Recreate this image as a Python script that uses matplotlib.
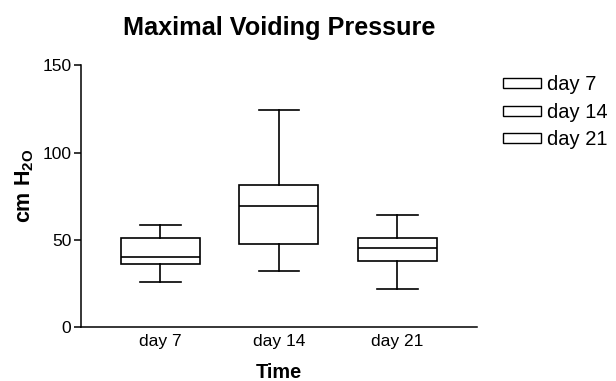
import matplotlib.pyplot as plt
from matplotlib.patches import Patch

plt.rcParams['font.family'] = ['Liberation Sans', 'DejaVu Sans']
plt.rcParams['mathtext.fontset'] = 'custom'
plt.rcParams['mathtext.rm'] = 'Liberation Sans'
plt.rcParams['mathtext.bf'] = 'Liberation Sans:bold'

# box statistics (cm H2O)
groups = ['day 7', 'day 14', 'day 21']
whisker_low = [26.1, 32.4, 21.9]
q1 = [36.2, 47.9, 37.8]
median = [40.2, 69.4, 45.6]
q3 = [51.0, 81.3, 51.3]
whisker_high = [58.6, 124.6, 64.3]

stats = []
for i, name in enumerate(groups):
    stats.append({'label': name, 'whislo': whisker_low[i], 'q1': q1[i],
                  'med': median[i], 'q3': q3[i], 'whishi': whisker_high[i],
                  'fliers': []})

fig = plt.figure(figsize=(6.16, 3.81), dpi=100)
ax = fig.add_axes([0.1315, 0.141, 0.6425, 0.6876])

lw = 1.2
ax.bxp(stats, positions=[1, 2, 3], widths=0.667, showfliers=False,
       patch_artist=True,
       boxprops=dict(facecolor='white', edgecolor='black', linewidth=lw),
       medianprops=dict(color='black', linewidth=lw),
       whiskerprops=dict(color='black', linewidth=lw),
       capprops=dict(color='black', linewidth=lw),
       capwidths=0.34)

ax.set_xlim(0.33, 3.67)
ax.set_ylim(0, 150)
ax.set_yticks([0, 50, 100, 150])
for side in ['top', 'right']:
    ax.spines[side].set_visible(False)
for side in ['left', 'bottom']:
    ax.spines[side].set_linewidth(1.1)
ax.tick_params(axis='y', length=5, width=1.1, pad=2, labelsize=12.5)
ax.tick_params(axis='x', length=0, pad=5, labelsize=12.5)

ax.set_title('Maximal Voiding Pressure', fontsize=18.2, fontweight='bold', pad=22)
ax.set_xlabel('Time', fontsize=14.3, fontweight='bold', labelpad=10)
ax.set_ylabel(r'cm H$_\mathbf{2O}$', fontsize=15.5, fontweight='bold')
ax.yaxis.set_label_coords(-0.114, 0.539)

handles = [Patch(facecolor='white', edgecolor='black', linewidth=1.0) for _ in groups]
fig.legend(handles, groups, loc='upper left', bbox_to_anchor=(0.8036, 0.823),
           frameon=False, fontsize=14.5, handlelength=1.9, handleheight=0.4,
           handletextpad=0.3, labelspacing=0.42, borderaxespad=0)

fig.savefig('out.png', dpi=100)
